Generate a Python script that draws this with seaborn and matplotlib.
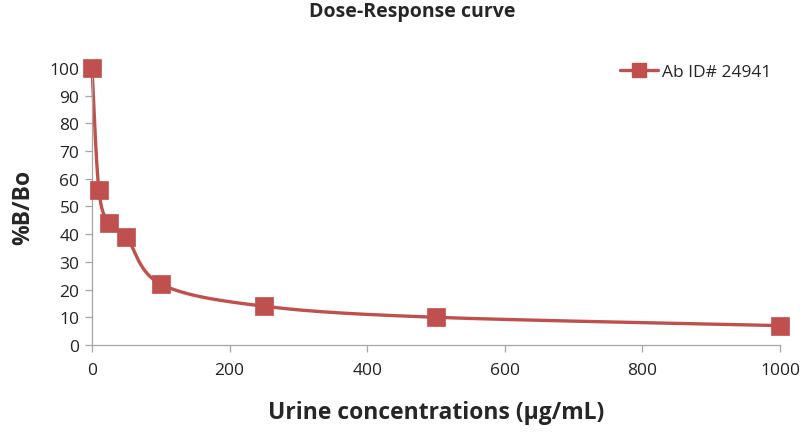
import numpy as np
import pandas as pd
import matplotlib
matplotlib.use("Agg")
import matplotlib.pyplot as plt
from matplotlib.lines import Line2D
import seaborn as sns

# data
concentration = [0, 10, 25, 50, 100, 250, 500, 1000]
pct_b_bo = [100, 56, 44, 39, 22, 14, 10, 7]
series_name = "Ab ID# 24941"
x_ticks = [0, 200, 400, 600, 800, 1000]
y_ticks = list(range(0, 101, 10))

RED = "#C0504D"
GREY = "#A6A6A6"


def excel_smooth(x, y, sx, sy, n=40):
    """Excel-like smoothed line: cubic Bezier through points, built in scaled space."""
    p = np.column_stack([np.asarray(x, float) * sx, np.asarray(y, float) * sy])
    out = []
    for i in range(len(p) - 1):
        p0 = p[i - 1] if i > 0 else p[i]
        p3 = p[i + 2] if i + 2 < len(p) else p[i + 1]
        c1 = p[i] + (p[i + 1] - p0) / 6
        c2 = p[i + 1] - (p3 - p[i]) / 6
        t = np.linspace(0, 1, n)[:, None]
        seg = ((1 - t) ** 3) * p[i] + 3 * ((1 - t) ** 2) * t * c1 + 3 * (1 - t) * t ** 2 * c2 + t ** 3 * p[i + 1]
        out.append(seg if i == 0 else seg[1:])
    out = np.vstack(out)
    return out[:, 0] / sx, out[:, 1] / sy


sns.set_style("white")
plt.rcParams["font.family"] = ["Open Sans", "DejaVu Sans"]

fig = plt.figure(figsize=(8, 4.35), dpi=100)
ax = fig.add_axes([0.115, 0.2046, 0.86, 0.6368])

# scale to pixel space so the smoothing looks like the spreadsheet one
sx_, sy_ = excel_smooth(concentration, pct_b_bo, 688 / 1000, 277 / 100)
curve = pd.DataFrame({"x": sx_, "y": sy_})
pts = pd.DataFrame({"x": concentration, "y": pct_b_bo})

sns.lineplot(data=curve, x="x", y="y", ax=ax, color=RED, linewidth=2.4,
             sort=False, estimator=None, clip_on=False)
sns.scatterplot(data=pts, x="x", y="y", ax=ax, color=RED, marker="s", s=165,
                edgecolor=RED, linewidth=0.5, zorder=5, clip_on=False)

ax.set_xlim(0, 1000)
ax.set_ylim(0, 100)
ax.set_xticks(x_ticks)
ax.set_yticks(y_ticks)
ax.tick_params(axis="both", labelsize=12.5, labelcolor="#222222", color=GREY,
               length=5, width=0.9, direction="out", left=True, bottom=True)
ax.tick_params(axis="x", pad=7)
ax.tick_params(axis="y", pad=4)
for side in ["top", "right"]:
    ax.spines[side].set_visible(False)
for side in ["left", "bottom"]:
    ax.spines[side].set_color(GREY)
    ax.spines[side].set_linewidth(0.9)

ax.set_xlabel("Urine concentrations (\u03bcg/mL)", fontsize=16.5, fontweight="bold", labelpad=16)
ax.set_ylabel("%B/Bo", fontsize=16.5, fontweight="bold", labelpad=10)
fig.text(0.515, 0.972, "Dose-Response curve", ha="center", va="center",
         fontsize=14, fontweight="bold")

handle = Line2D([0], [0], color=RED, linewidth=2.4, marker="s", markersize=10)
ax.legend([handle], [series_name], loc="upper right", bbox_to_anchor=(1.01, 1.07),
          frameon=False, fontsize=12.5, handlelength=2.2, handletextpad=0.2)

fig.savefig("out.png", dpi=100)
